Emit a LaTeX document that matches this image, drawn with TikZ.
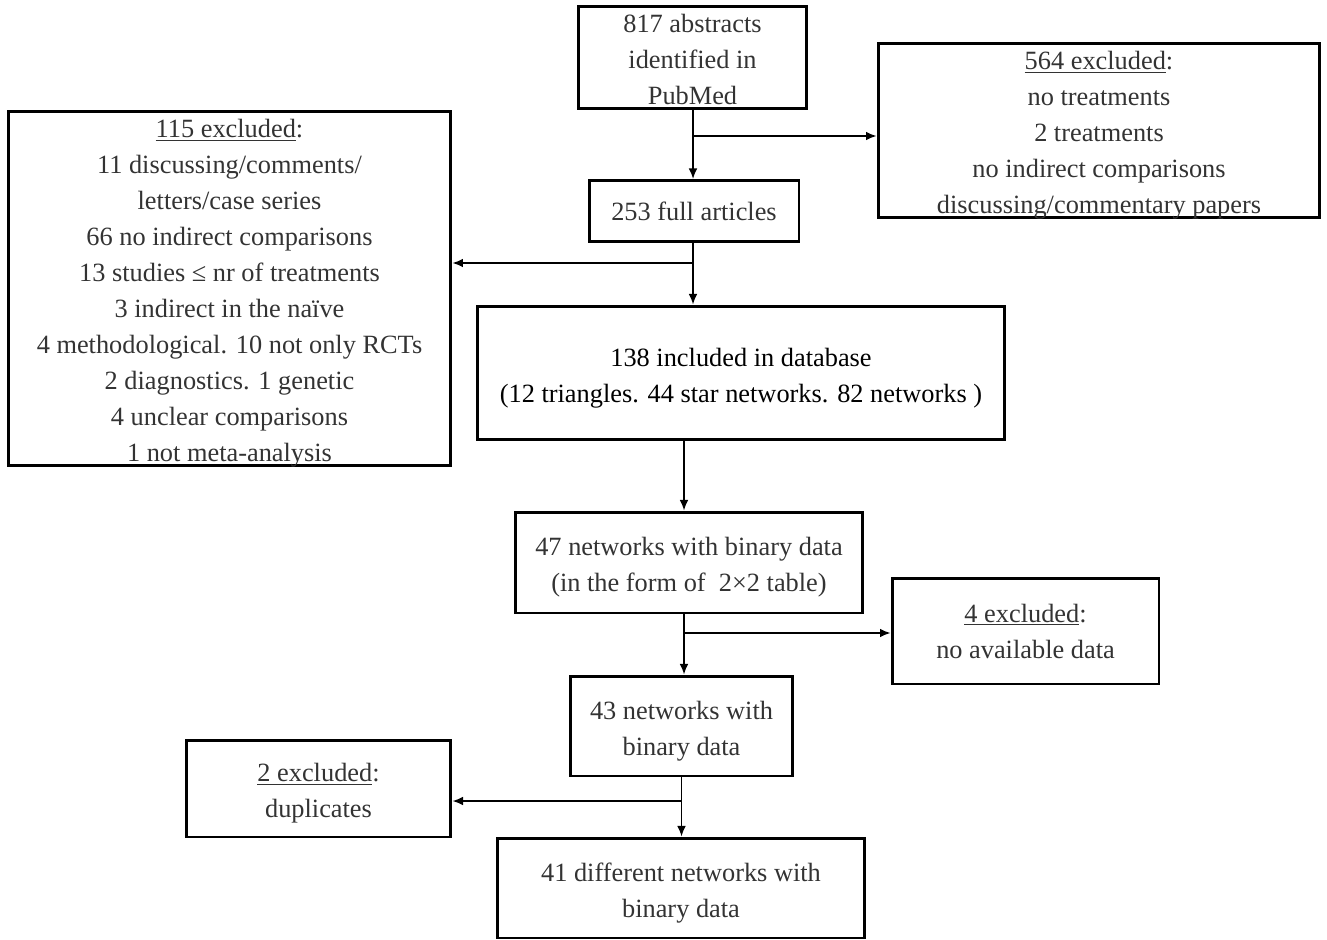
\documentclass[tikz,border=0pt]{standalone}
\usepackage{fontspec}
\setmainfont{Liberation Serif}
\usepackage{tikz}
\definecolor{txtgray}{HTML}{333333}
\newcommand{\lift}[1][15.9pt]{\rule{0pt}{#1}}
\tikzset{
stage/.style={draw, line width=1.7pt, align=center, inner sep=0pt, inner ysep=-3pt, text=txtgray,
  font=\fontsize{15pt}{20.5pt}\selectfont},
size/.style 2 args={minimum width=#1, minimum height=#2},
excl/.style={stage},
flow/.style={-{Latex[length=6pt, width=5pt]}, line width=1pt},
branch/.style={flow}
}
\usetikzlibrary{calc, positioning, arrows.meta}

\begin{document}
\begin{tikzpicture}[x=0.02cm, y=-0.02cm]
	\useasboundingbox (0,0) rectangle (1327,939);
	\node[stage, size={4.58cm}{2.06cm}] (abs) at (692.5,57.5)
		{\lift[12.5pt]817 abstracts\\identified in\\PubMed};
	\node[excl, size={8.84cm}{3.5cm}] (ex564) at (1099,130.5)
		{\lift\underline{564 excluded}:\\no treatments\\2 treatments\\no indirect comparisons\\discussing/commentary papers};
	\node[stage, size={4.2cm}{1.22cm}] (full) at (694,211)
		{253 full articles};
	\node[excl, size={8.86cm}{7.1cm}] (ex115) at (229.5,288.5)
		{\lift\underline{115 excluded}:\\11 discussing/comments/\\letters/case series\\66 no indirect comparisons\\13 studies ≤ nr of treatments\\3 indirect in the naïve\\4 methodological. 10 not only RCTs\\2 diagnostics. 1 genetic\\4 unclear comparisons\\1 not meta-analysis};
	\node[stage, text=black, size={10.56cm}{2.68cm}] (db) at (741,373)
		{\lift138 included in database\\(12 triangles. 44 star networks. 82 networks )};
	\node[stage, size={6.96cm}{2.02cm}] (bin47) at (689,562.5)
		{\lift47 networks with binary data\\(in the form of~ 2×2 table)};
	\node[excl, size={5.34cm}{2.12cm}] (ex4) at (1025.5,631)
		{\underline{4 excluded}:\\no available data};
	\node[stage, size={4.46cm}{2cm}] (bin43) at (681.5,726)
		{\lift43 networks with\\binary data};
	\node[excl, size={5.3cm}{1.94cm}] (ex2) at (318.5,788.5)
		{\lift\underline{2 excluded}:\\duplicates};
	\node[stage, size={7.36cm}{2cm}] (bin41) at (681,888)
		{\lift41 different networks with\\binary data};
	% ----
	\coordinate (jabs) at (693,136);
	\coordinate (jfull) at (693,263);
	\coordinate (jdb) at (684,440);
	\coordinate (jbin47) at (684,633);
	\coordinate (jbin43) at (681.5,801);
	% ----
	\draw[flow] (abs.south -| jabs) -- (full.north -| jabs);
	\draw[branch] (jabs) -- (jabs -| ex564.west);
	%
	\draw[flow] (full.south -| jfull) -- (db.north -| jfull);
	\draw[branch] (jfull) -- (jfull -| ex115.east);
	%
	\draw[flow] (jdb) -- (bin47.north -| jdb);
	%
	\draw[flow] (bin47.south -| jbin47) -- (bin43.north -| jbin47);
	\draw[branch] (jbin47) -- (jbin47 -| ex4.west);
	%
	\draw[flow] (bin43.south) -- (bin41.north -| bin43.south);
	\draw[branch] (jbin43) -- (jbin43 -| ex2.east);
\end{tikzpicture}
\end{document}
